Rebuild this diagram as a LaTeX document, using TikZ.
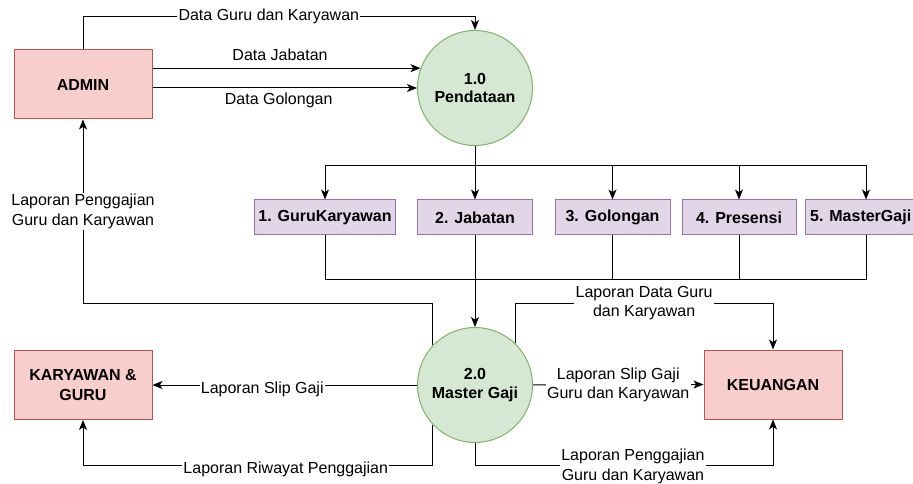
\documentclass[tikz,border=0pt]{standalone}
\usepackage{fontspec}
\setmainfont{Liberation Sans}
\usetikzlibrary{arrows.meta}
\definecolor{entfill}{HTML}{F8CECC}
\definecolor{entline}{HTML}{B85450}
\definecolor{procfill}{HTML}{D5E8D4}
\definecolor{procline}{HTML}{82B366}
\definecolor{storefill}{HTML}{E1D5E7}
\definecolor{storeline}{HTML}{9673A6}
\begin{document}
\begin{tikzpicture}[x=0.75pt,y=-0.75pt,line width=0.75pt,
  >={Stealth[length=7.5pt,width=6pt,inset=2pt]},
  every node/.style={font=\fontsize{12}{14.5}\selectfont},
  entity/.style={draw=entline,fill=entfill,rectangle,minimum width=103.5pt,minimum height=51.75pt,font=\fontsize{12}{14.5}\selectfont\bfseries,align=center},
  proc/.style={draw=procline,fill=procfill,circle,minimum size=86.25pt,inner sep=0pt,font=\fontsize{12}{14}\selectfont\bfseries,align=center},
  store/.style={draw=storeline,fill=storefill,rectangle,minimum height=26.25pt,font=\fontsize{12}{14}\selectfont\bfseries},
  lbl/.style={fill=white,inner sep=1pt,align=center}]
\clip (0,0) rectangle (913,484);
\fill[white] (0,0) rectangle (913,484);
% external entities
\node[entity] (admin) at (83,84.5) {ADMIN};
\node[entity] (kg) at (83,385) {KARYAWAN \&\\GURU};
\node[entity] (keu) at (773,384.5) {KEUANGAN};
% processes
\node[proc] (p1) at (475,88) {1.0\\Pendataan};
\node[proc] (p2) at (475,385) {2.0\\Master Gaji};
% data stores
\node[store,minimum width=103.5pt] (s1) at (325,217.5) {1. GuruKaryawan};
\node[store,minimum width=86.25pt] (s2) at (475,217.5) {2. Jabatan};
\node[store,minimum width=86.25pt] (s3) at (612.5,217.5) {3. Golongan};
\node[store,minimum width=85.5pt] (s4) at (739,217.5) {4. Presensi};
\node[store,minimum width=87pt] (s5) at (866,217.5) {5. MasterGaji\kern8pt};
\coordinate (split) at (475,166);
\coordinate (join) at (475,280);
% admin -> pendataan
\draw[->] (admin.north) -- ++(0,-33) -| (p1.north) node[lbl,pos=0.237] {Data Guru dan Karyawan};
\draw[->] (admin.east |- p1.160) -- (p1.160) node[pos=0.476,above=5pt,inner sep=0pt] {Data Jabatan};
\draw[->] (admin.east |- p1.west) -- (p1.west) node[pos=0.477,below=3pt,inner sep=0pt] {Data Golongan};
% pendataan -> stores
\draw (p1.south) -- (split);
\foreach \s in {s1,s2,s3,s4,s5}
  \draw[->] (split) -| (\s.north);
% stores -> master gaji
\foreach \s in {s1,s3,s4,s5}
  \draw (\s.south) |- (join);
\draw[->] (s2.south) -- (p2.north);
% master gaji -> outputs
\draw[->] (p2.137) -- ++(0,-42) -| (admin.south) node[lbl,pos=0.75] {Laporan Penggajian\\Guru dan Karyawan};
\draw[->] (p2.46) -- ++(0,-40) -| (keu.north) node[lbl,pos=0.25] {Laporan Data Guru\\dan Karyawan};
\draw[->] (p2.west) -- (kg.east) node[lbl,pos=0.585,yshift=-3pt] {Laporan Slip Gaji};
\draw[->] (p2.east) -- (keu.west) node[lbl,midway] {Laporan Slip Gaji\\Guru dan Karyawan};
\draw[->] (p2.223) -- ++(0,41) -| (kg.south) node[lbl,pos=0.21,yshift=-3pt] {Laporan Riwayat Penggajian};
\draw[->] (p2.south) -- ++(0,22) -| (keu.south) node[lbl,pos=0.265,yshift=-1pt] {Laporan Penggajian\\Guru dan Karyawan};
\end{tikzpicture}
\end{document}
